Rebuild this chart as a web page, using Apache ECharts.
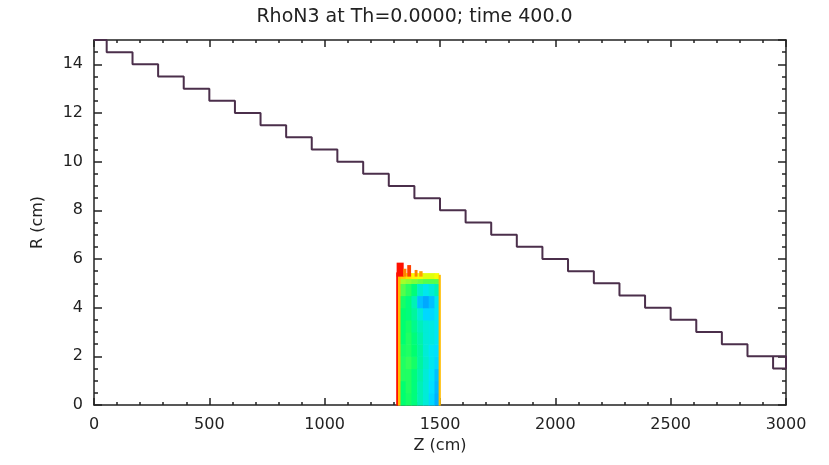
<!DOCTYPE html>
<html>
<head>
<meta charset="utf-8">
<script src="https://cdn.jsdelivr.net/npm/echarts@6/dist/echarts.min.js"></script>
<style>
html, body { margin: 0; padding: 0; background: #fff; }
#chart { width: 829px; height: 465px; }
</style>
</head>
<body>
<div id="chart"></div>
<script>
// staircase boundary: z where R drops by 0.5
var stepZ = [55, 167, 278, 389, 500, 611, 722, 833, 944, 1055, 1167, 1278, 1389, 1500,
	1611, 1722, 1833, 1944, 2055, 2167, 2278, 2389, 2500, 2611, 2722, 2833, 2944];
var stepR = [15, 14.5, 14, 13.5, 13, 12.5, 12, 11.5, 11, 10.5, 10, 9.5, 9, 8.5, 8,
	7.5, 7, 6.5, 6, 5.5, 5, 4.5, 4, 3.5, 3, 2.5, 2, 1.5];

// RhoN3 block, interior cells (rows from R=0 upward)
var zEdges = [1326, 1351, 1376, 1401, 1426, 1451, 1476, 1494];
var rEdges = [0, 0.5, 1, 1.5, 2, 2.5, 3, 3.5, 4, 4.5, 5, 5.2, 5.42];
var rhoRows = [
	[0.50, 0.52, 0.48, 0.38, 0.32, 0.22, 0.12],
	[0.50, 0.53, 0.48, 0.38, 0.32, 0.24, 0.14],
	[0.53, 0.53, 0.48, 0.40, 0.32, 0.26, 0.16],
	[0.53, 0.55, 0.52, 0.42, 0.34, 0.28, 0.22],
	[0.52, 0.53, 0.50, 0.42, 0.32, 0.27, 0.24],
	[0.50, 0.53, 0.48, 0.40, 0.32, 0.30, 0.27],
	[0.50, 0.52, 0.45, 0.37, 0.32, 0.30, 0.27],
	[0.50, 0.48, 0.42, 0.32, 0.22, 0.22, 0.27],
	[0.52, 0.48, 0.38, 0.16, 0.10, 0.16, 0.28],
	[0.58, 0.54, 0.48, 0.34, 0.28, 0.32, 0.38],
	[0.66, 0.64, 0.62, 0.60, 0.58, 0.58, 0.58],
	[0.80, 0.78, 0.76, 0.74, 0.72, 0.72, 0.74]
];
// edge strips and top bumps: [z0, z1, r0, r1, value]
var rhoExtra = [
	[1310, 1318, 0, 5.45, 1.0],
	[1318, 1326, 0, 5.45, 0.82],
	[1494, 1501, 0, 5.35, 0.82],
	[1312, 1340, 5.3, 5.85, 1.0],
	[1340, 1352, 5.3, 5.6, 0.88],
	[1358, 1372, 5.3, 5.75, 0.95],
	[1390, 1400, 5.3, 5.55, 0.88],
	[1410, 1422, 5.3, 5.5, 0.85]
];

var xTicks = { min: 0, max: 3000, interval: 500 };
var yTicks = { min: 0, max: 15, interval: 2 };

var cells = [];
for (var i = 0; i < rhoRows.length; i++) {
	for (var j = 0; j < rhoRows[i].length; j++) {
		cells.push([zEdges[j], zEdges[j + 1], rEdges[i], rEdges[i + 1], rhoRows[i][j]]);
	}
}
cells = cells.concat(rhoExtra);

var outline = [[0, stepR[0]]];
for (var k = 0; k < stepZ.length; k++) {
	outline.push([stepZ[k], stepR[k]]);
	outline.push([stepZ[k], stepR[k + 1]]);
}
outline.push([3000, stepR[stepR.length - 1]]);
outline.push([3000, stepR[stepR.length - 2]]);
outline.push([stepZ[stepZ.length - 1], stepR[stepR.length - 2]]);

var axisColor = '#222';
var font = 'DejaVu Sans';

function xAxisOpt(pos, showLabel) {
	return {
		type: 'value', position: pos, min: xTicks.min, max: xTicks.max, interval: xTicks.interval,
		name: showLabel ? 'Z (cm)' : '', nameLocation: 'middle', nameGap: 33,
		nameTextStyle: { color: axisColor, fontSize: 16, fontFamily: font },
		axisLine: { show: true, onZero: false, lineStyle: { color: axisColor, width: 1.5 } },
		axisTick: { show: true, inside: true, length: 7, lineStyle: { color: axisColor, width: 1.5 } },
		minorTick: { show: true, splitNumber: 5, length: 3, lineStyle: { color: axisColor, width: 1.5 } },
		axisLabel: {
			show: showLabel, color: axisColor, fontSize: 16, fontFamily: font, margin: 12,
			formatter: function (v) { return String(v); }
		},
		splitLine: { show: false }
	};
}
function yAxisOpt(pos, showLabel) {
	return {
		type: 'value', position: pos, min: yTicks.min, max: yTicks.max, interval: yTicks.interval,
		name: showLabel ? 'R (cm)' : '', nameLocation: 'middle', nameGap: 48, nameRotate: 90,
		nameTextStyle: { color: axisColor, fontSize: 16, fontFamily: font },
		axisLine: { show: true, onZero: false, lineStyle: { color: axisColor, width: 1.5 } },
		axisTick: { show: true, inside: true, length: 8, lineStyle: { color: axisColor, width: 1.5 } },
		minorTick: { show: true, splitNumber: 4, length: 4, lineStyle: { color: axisColor, width: 1.5 } },
		axisLabel: { show: showLabel, color: axisColor, fontSize: 16, fontFamily: font, margin: 11, showMaxLabel: false },
		splitLine: { show: false }
	};
}

var option = {
	backgroundColor: '#fff',
	animation: false,
	title: {
		text: 'RhoN3 at Th=0.0000; time 400.0',
		left: 'center', top: 3,
		textStyle: { color: axisColor, fontSize: 19, fontWeight: 'normal', fontFamily: font }
	},
	grid: { left: 94, right: 43, top: 40, bottom: 60 },
	xAxis: [xAxisOpt('bottom', true), xAxisOpt('top', false)],
	yAxis: [yAxisOpt('left', true), yAxisOpt('right', false)],
	visualMap: {
		show: false, type: 'continuous', seriesIndex: 0, dimension: 4, min: 0, max: 1,
		inRange: { color: ['#0080ff', '#00e4ff', '#00ff70', '#ffff00', '#ff1000'] }
	},
	series: [{
		type: 'custom',
		encode: { x: [0, 1], y: [2, 3] },
		renderItem: function (params, api) {
			var p0 = api.coord([api.value(0), api.value(3)]);
			var p1 = api.coord([api.value(1), api.value(2)]);
			return {
				type: 'rect',
				shape: { x: p0[0], y: p0[1], width: p1[0] - p0[0] + 0.6, height: p1[1] - p0[1] + 0.6 },
				style: { fill: api.visual('color') }
			};
		},
		data: cells
	}, {
		type: 'line',
		data: outline,
		symbol: 'none',
		lineStyle: { color: '#4b2f4b', width: 2 },
		z: 3
	}]
};

var myChart = echarts.init(document.getElementById('chart'));
myChart.setOption(option);
</script>
</body>
</html>
